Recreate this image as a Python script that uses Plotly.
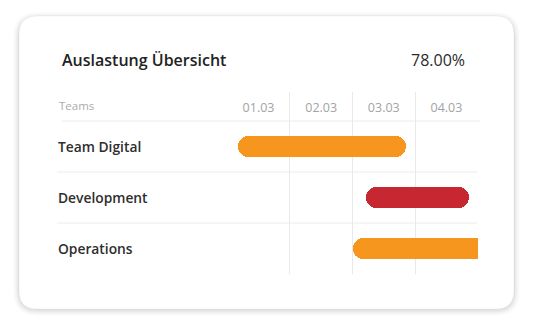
import plotly.graph_objects as go

# ---- data ----
title_text = "Auslastung Übersicht"
kpi_text = "78.00%"
header_label = "Teams"
teams = ["Team Digital", "Development", "Operations"]
day_labels = ["01.03", "02.03", "03.03", "04.03"]
start_day = [0.17, 2.22, 2.0]   # days after 01.03 00:00
end_day = [2.85, 3.86, 4.6]
bar_colors = ["#F7961F", "#C62731", "#F7961F"]

# ---- layout geometry (pixels) ----
W, H = 534, 331
PX0, PX1 = 227, 478     # plot area x
PY0, PY1 = 92, 274      # plot area y (top, bottom)
ROW_PX = 51
n_rows = len(teams)
y_top = (PY1 - PY0) / ROW_PX
FONT = "Open Sans"

def px_x(px):
    return (px - PX0) / (PX1 - PX0)

def px_y(py):
    return (PY1 - py) / (PY1 - PY0)

def rrect(x0, y0, x1, y1, r):
    pts = [
        f"M {px_x(x0 + r)},{px_y(y0)}",
        f"L {px_x(x1 - r)},{px_y(y0)}",
        f"Q {px_x(x1)},{px_y(y0)} {px_x(x1)},{px_y(y0 + r)}",
        f"L {px_x(x1)},{px_y(y1 - r)}",
        f"Q {px_x(x1)},{px_y(y1)} {px_x(x1 - r)},{px_y(y1)}",
        f"L {px_x(x0 + r)},{px_y(y1)}",
        f"Q {px_x(x0)},{px_y(y1)} {px_x(x0)},{px_y(y1 - r)}",
        f"L {px_x(x0)},{px_y(y0 + r)}",
        f"Q {px_x(x0)},{px_y(y0)} {px_x(x0 + r)},{px_y(y0)}",
        "Z",
    ]
    return " ".join(pts)

row_y = [n_rows - 0.5 - i for i in range(n_rows)]

fig = go.Figure()

fig.add_trace(go.Bar(
    y=row_y, base=start_day, x=[e - s for s, e in zip(start_day, end_day)],
    orientation="h", width=0.4, marker=dict(color=bar_colors, line_width=0),
    hoverinfo="skip", showlegend=False))

# day labels in header row
fig.add_trace(go.Scatter(
    x=[i + 0.5 for i in range(len(day_labels))],
    y=[y_top - 16.5 / ROW_PX] * len(day_labels),
    mode="text", text=day_labels,
    textfont=dict(family=FONT, size=12.5, color="#a3a3a3", weight=400),
    hoverinfo="skip", showlegend=False))

shapes = []
# card shadow
for i, a in enumerate([0.010, 0.012, 0.015, 0.018, 0.022, 0.028]):
    g = 6 - i
    shapes.append(dict(type="path", xref="paper", yref="paper", layer="below",
                       path=rrect(19 - g, 16 - g + 2, 514 + g, 309 + g + 1, 18 + g),
                       fillcolor=f"rgba(0,0,0,{a})", line=dict(width=0)))
shapes.append(dict(type="path", xref="paper", yref="paper", layer="below",
                   path=rrect(19, 16, 514, 309, 18),
                   fillcolor="#ffffff", line=dict(color="rgba(0,0,0,0.04)", width=1)))
# header separator + row separators
shapes.append(dict(type="line", xref="paper", yref="y", layer="below",
                   x0=px_x(62), x1=px_x(480), y0=n_rows, y1=n_rows,
                   line=dict(color="#ececec", width=1)))
for k in range(1, n_rows):
    shapes.append(dict(type="line", xref="paper", yref="y", layer="below",
                       x0=px_x(57), x1=px_x(477), y0=k, y1=k,
                       line=dict(color="#ececec", width=1)))

annotations = [
    dict(text=title_text, xref="paper", yref="paper", x=px_x(60), y=px_y(60),
         xanchor="left", yanchor="middle", showarrow=False,
         font=dict(family=FONT, size=16, color="#222222", weight=600)),
    dict(text=kpi_text, xref="paper", yref="paper", x=px_x(467), y=px_y(60),
         xanchor="right", yanchor="middle", showarrow=False,
         font=dict(family=FONT, size=16, color="#2a2a2a", weight=400)),
    dict(text=header_label, xref="paper", yref="y", x=px_x(57), y=y_top - 13 / ROW_PX,
         xanchor="left", yanchor="middle", showarrow=False,
         font=dict(family=FONT, size=11.5, color="#ababab", weight=400)),
]
for t, yy in zip(teams, row_y):
    annotations.append(dict(text=t, xref="paper", yref="y", x=px_x(56), y=yy,
                            xanchor="left", yanchor="middle", showarrow=False,
                            font=dict(family=FONT, size=13.8, color="#2e2e2e", weight=600)))

fig.update_layout(
    width=W, height=H,
    margin=dict(l=PX0, r=W - PX1, t=PY0, b=H - PY1, pad=0),
    paper_bgcolor="#ffffff", plot_bgcolor="rgba(0,0,0,0)",
    barmode="overlay", barcornerradius=10, bargap=0,
    shapes=shapes, annotations=annotations,
    xaxis=dict(range=[-0.004, len(day_labels) + 0.004],
               tickvals=list(range(len(day_labels) + 1)),
               showticklabels=False, ticks="", showgrid=True, gridcolor="#e9e9e9",
               gridwidth=1, zeroline=False, showline=False, fixedrange=True),
    yaxis=dict(range=[0, y_top], showticklabels=False, ticks="", showgrid=False,
               zeroline=False, showline=False, fixedrange=True),
    font=dict(family=FONT),
)

fig.write_html("out.html")
